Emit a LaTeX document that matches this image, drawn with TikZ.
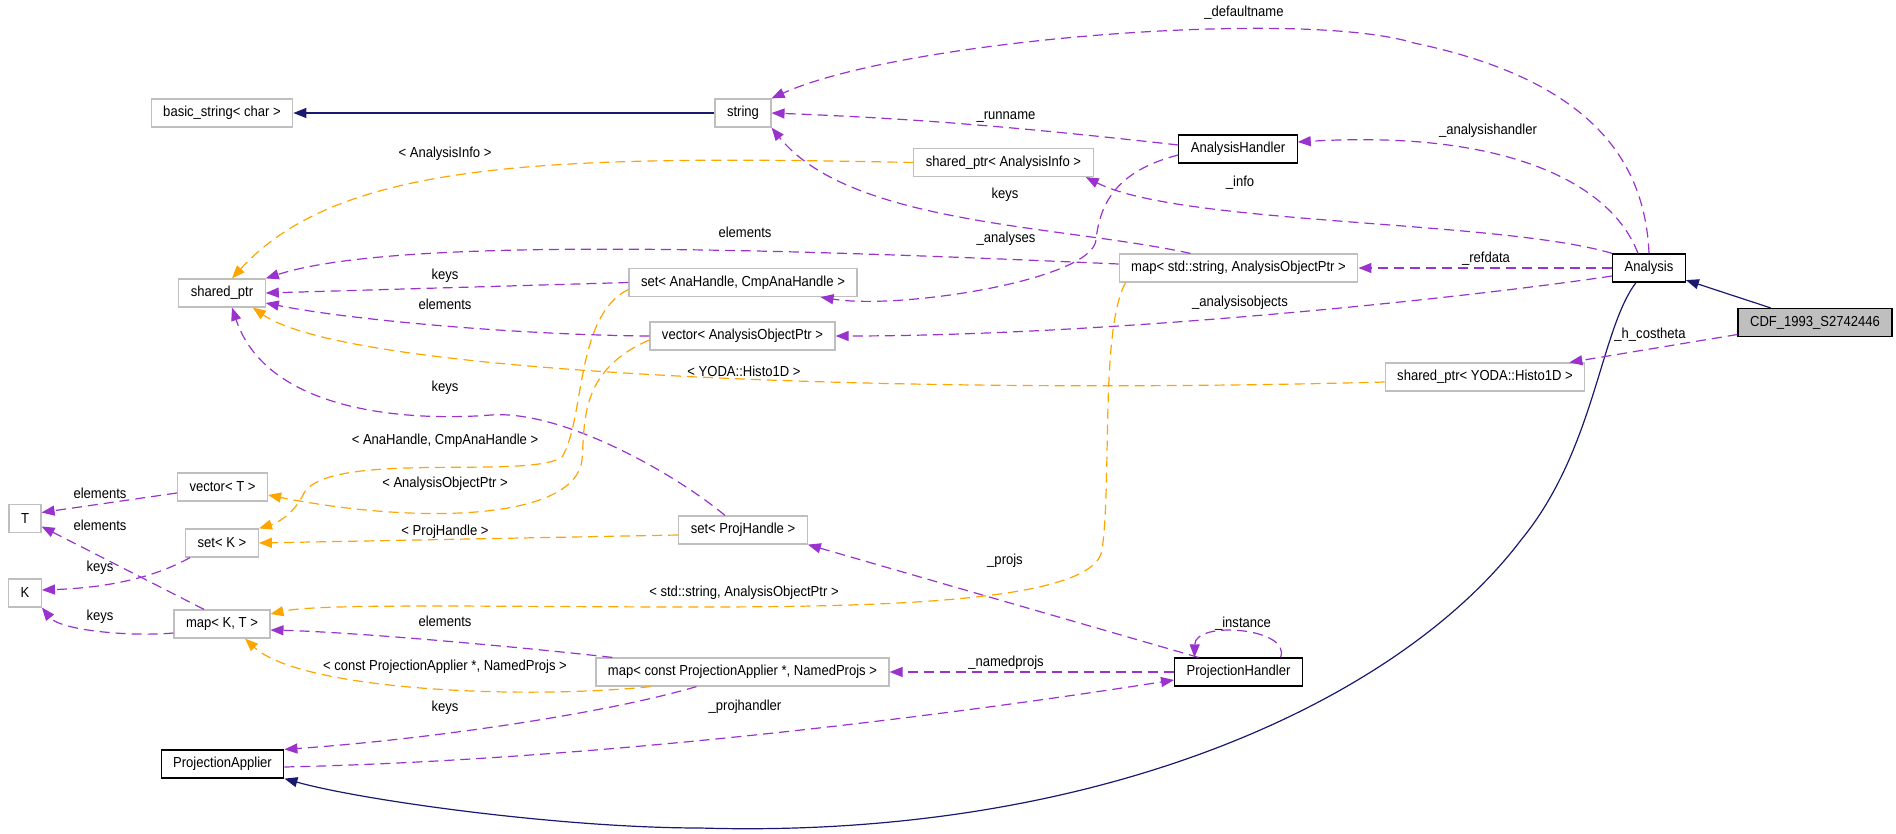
\documentclass[tikz,border=0pt]{standalone}
\usepackage{fontspec}
\setmainfont{Liberation Sans}[FakeStretch=0.9]
\usetikzlibrary{arrows.meta}
\definecolor{navy}{HTML}{191970}
\definecolor{orchid}{HTML}{9A32CD}
\definecolor{amber}{HTML}{FFA500}
\definecolor{boxgray}{HTML}{BFBFBF}
\tikzset{
  cls/.style={draw=black, line width=1.2pt, fill=white, minimum height=28pt, inner xsep=12pt, inner ysep=0pt, font=\fontsize{14.5}{16}\selectfont},
  ext/.style={cls, draw=boxgray},
  lbl/.style={font=\fontsize{14.5}{16}\selectfont, inner sep=0pt},
  inh/.style={draw=navy, line width=1.2pt, -{Triangle[length=13pt,width=10pt]}},
  dep/.style={draw=orchid, line width=1.2pt, dash pattern=on 10pt off 6pt, -{Triangle[length=13pt,width=10pt]}},
  tmpl/.style={dep, draw=amber}
}
\begin{document}
\begin{tikzpicture}[x=1pt, y=-1pt]
        \useasboundingbox (0,0) rectangle (1896,834);
        \node[ext] (bstr) at (222,113) {basic\_string< char >};
        \node[ext] (str) at (743,113) {string};
        \node[ext] (sptr) at (222,293) {shared\_ptr};
        \node[ext] (sptrinfo) at (1003.5,162.5) {shared\_ptr< AnalysisInfo >};
        \node[cls] (ahandler) at (1238,149) {AnalysisHandler};
        \node[cls] (ana) at (1649,268) {Analysis};
        \node[cls, fill=boxgray] (cdf) at (1815,322.5) {CDF\_1993\_S2742446};
        \node[ext] (mapstr) at (1238.5,268) {map< std::string, AnalysisObjectPtr >};
        \node[ext] (setana) at (743,282.5) {set< AnaHandle, CmpAnaHandle >};
        \node[ext] (vecaop) at (742.5,336) {vector< AnalysisObjectPtr >};
        \node[ext] (sptryoda) at (1485,377) {shared\_ptr< YODA::Histo1D >};
        \node[ext] (vect) at (222.5,487) {vector< T >};
        \node[ext] (tcls) at (25,518.5) {T};
        \node[ext] (setk) at (222,543) {set< K >};
        \node[ext] (setproj) at (743,530) {set< ProjHandle >};
        \node[ext] (kcls) at (25,593) {K};
        \node[ext] (mapkt) at (222,624) {map< K, T >};
        \node[ext] (mappa) at (742.5,672) {map< const ProjectionApplier *, NamedProjs >};
        \node[cls] (phandler) at (1238.5,672) {ProjectionHandler};
        \node[cls] (papplier) at (222.5,764) {ProjectionApplier};

        \draw[inh] (str) -- (bstr);
        \draw[inh] (cdf) -- (ana);
        \draw[inh] ([xshift=-13pt]ana.south) .. controls (1600,330) and (1595,450) .. (1521,540) .. controls (1400,700) and (1100,840) .. (700,828) .. controls (560,828) and (360,800) .. (papplier.south east);

        \draw[dep] (ana.north) .. controls (1645,160) and (1590,80) .. (1414,43) .. controls (1300,8) and (900,40) .. (str.north east);
        \draw[dep] ([yshift=4pt]ahandler.west) .. controls (1000,125) and (900,118) .. (str.east);
        \draw[dep] ([xshift=-11pt]ana.north) .. controls (1610,180) and (1500,130) .. ([yshift=7pt]ahandler.east);
        \draw[dep] (ana.north west) .. controls (1500,220) and (1180,225) .. ([xshift=-8pt]sptrinfo.south east);
        \draw[dep] (ana.west) -- (mapstr.east);
        \draw[dep] ([yshift=-8pt]ana.west) .. controls (1450,300) and (1100,336) .. (vecaop.east);
        \draw[dep] ([yshift=-12pt]cdf.west) -- ([xshift=-16pt]sptryoda.north east);
        \draw[dep] ([yshift=-6pt]ahandler.west) .. controls (1120,170) and (1100,200) .. (1096,240) .. controls (1092,280) and (900,310) .. ([xshift=-37pt]setana.south east);
        \draw[dep] ([xshift=-48pt]mapstr.north) .. controls (1060,225) and (850,225) .. (str.south east);
        \draw[dep] ([yshift=4pt]mapstr.west) .. controls (800,250) and (400,235) .. (sptr.north east);
        \draw[dep] (setana.west) -- (sptr.east);
        \draw[dep] (vecaop.west) .. controls (520,335) and (350,320) .. ([yshift=-10pt]sptr.east);
        \draw[dep] ([xshift=-18pt]setproj.north) .. controls (670,470) and (560,410) .. (491,415) .. controls (430,420) and (270,420) .. ([xshift=10pt]sptr.south);
        \draw[dep] ([yshift=-6pt]vect.west) -- ([yshift=6pt]tcls.east);
        \draw[dep] ([xshift=-18pt]mapkt.north) -- ([yshift=-8pt]tcls.east);
        \draw[dep] ([xshift=-32pt]setk.south) .. controls (150,580) and (100,588) .. ([yshift=3pt]kcls.east);
        \draw[dep] ([yshift=-9pt]mapkt.west) .. controls (128,637) and (60,630) .. (kcls.south east);
        \draw[dep] ([xshift=17pt]mappa.north west) .. controls (500,645) and (350,632) .. ([yshift=-6pt]mapkt.east);
        \draw[dep] ([xshift=-46pt]mappa.south) .. controls (600,715) and (420,740) .. (papplier.north east);
        \draw[dep] ([xshift=-40pt]phandler.north) -- (setproj.south east);
        \draw[dep] (phandler.west) -- (mappa.east);
        \draw[dep] ([yshift=-3pt]papplier.east) .. controls (600,760) and (950,715) .. ([yshift=-8pt]phandler.west);
        \draw[dep] ([xshift=42pt]phandler.north) .. controls (1292,628) and (1195,620) .. ([xshift=-44pt]phandler.north);

        \draw[tmpl] (sptrinfo.west) .. controls (550,155) and (340,160) .. ([xshift=10pt]sptr.north);
        \draw[tmpl] ([yshift=-5pt]sptryoda.west) .. controls (900,395) and (350,375) .. ([xshift=-13pt]sptr.south east);
        \draw[tmpl] ([yshift=-7pt]setana.west) .. controls (575,315) and (585,420) .. (562,457) .. controls (530,480) and (330,450) .. (304,493) .. controls (295,512) and (280,522) .. (setk.north east);
        \draw[tmpl] ([yshift=-4pt]vecaop.west) .. controls (580,370) and (585,420) .. (582,460) .. controls (575,520) and (420,525) .. ([yshift=-8pt]vect.east);
        \draw[tmpl] ([yshift=-5pt]setproj.west) -- (setk.east);
        \draw[tmpl] ([xshift=-113pt]mapstr.south) .. controls (1100,330) and (1112,480) .. (1102,550) .. controls (1095,600) and (900,607) .. (700,607) .. controls (500,607) and (320,603) .. ([yshift=10pt]mapkt.east);
        \draw[tmpl] ([xshift=-92pt]mappa.south) .. controls (520,700) and (300,690) .. ([xshift=23pt]mapkt.south);

        \node[lbl] (ldefname) at (1244,13) {\_defaultname};
        \node[lbl] (lrunname) at (1006,117) {\_runname};
        \node[lbl] (lahandler) at (1488,131) {\_analysishandler};
        \node[lbl] (linfo) at (1240,183) {\_info};
        \node[lbl] (lkeysstr) at (1005,195) {keys};
        \node[lbl] (lelemmap) at (745,232) {elements};
        \node[lbl] (lanalyses) at (1006,239) {\_analyses};
        \node[lbl] (lrefdata) at (1486,259) {\_refdata};
        \node[lbl] (lkeysset) at (445,276) {keys};
        \node[lbl] (lelemvec) at (445,304) {elements};
        \node[lbl] (laobjects) at (1240,303) {\_analysisobjects};
        \node[lbl] (lcostheta) at (1650,335) {\_h\_costheta};
        \node[lbl] (linfotpl) at (445,154) {< AnalysisInfo >};
        \node[lbl] (lyoda) at (744,371) {< YODA::Histo1D >};
        \node[lbl] (lkeysproj) at (445,388) {keys};
        \node[lbl] (lanahandle) at (445,441) {< AnaHandle, CmpAnaHandle >};
        \node[lbl] (laoptr) at (445,484) {< AnalysisObjectPtr >};
        \node[lbl] (lelemt) at (100,493) {elements};
        \node[lbl] (lelemkt) at (100,525) {elements};
        \node[lbl] (lprojhandle) at (445,532) {< ProjHandle >};
        \node[lbl] (lprojs) at (1005,561) {\_projs};
        \node[lbl] (lkeysk) at (100,568) {keys};
        \node[lbl] (lstrptr) at (744,593) {< std::string, AnalysisObjectPtr >};
        \node[lbl] (lkeyskt) at (100,617) {keys};
        \node[lbl] (lelempa) at (445,621) {elements};
        \node[lbl] (linstance) at (1243,624) {\_instance};
        \node[lbl] (lnamedprojs) at (1006,663) {\_namedprojs};
        \node[lbl] (lconstpa) at (445,667) {< const ProjectionApplier *, NamedProjs >};
        \node[lbl] (lkeyspa) at (445,708) {keys};
        \node[lbl] (lprojhandler) at (745,707) {\_projhandler};
    \end{tikzpicture}
\end{document}
